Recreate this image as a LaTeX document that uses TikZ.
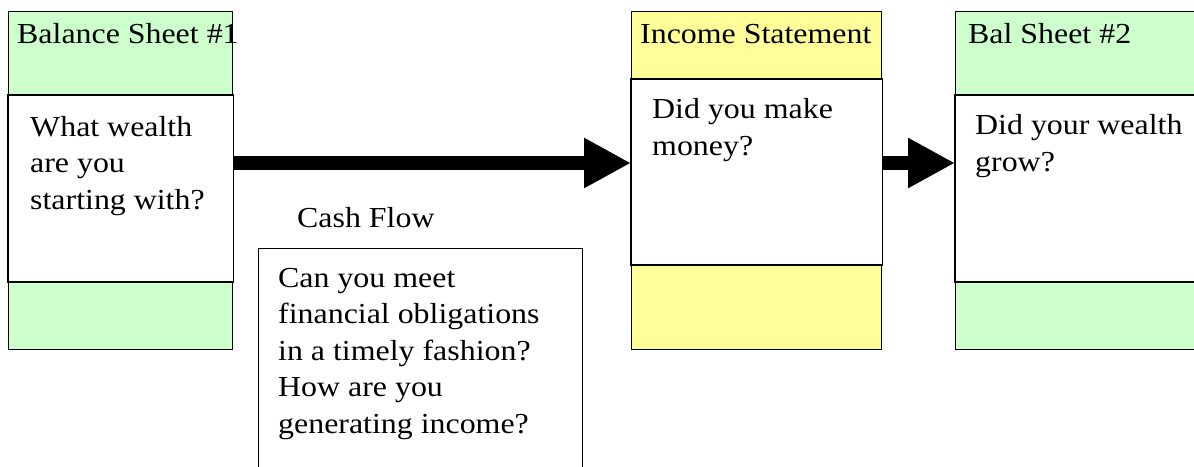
\documentclass[tikz,border=0pt]{standalone}
\usepackage{fontspec}
\setmainfont[FakeStretch=1.1]{Liberation Serif}
\usepackage{tikz}
\usetikzlibrary{arrows.meta, calc}
\definecolor{sheetgreen}{HTML}{CCFFCC}
\definecolor{incyellow}{HTML}{FFFF99}

\begin{document}
\begin{tikzpicture}[x=1pt, y=-1pt, line join=miter,
	panel/.style={draw=black, line width=1.3pt, rectangle, inner sep=0pt, anchor=north west},
	txt/.style={anchor=base west, inner sep=0pt, align=left, font=\fontsize{29}{36.5}\selectfont},
	bigarrow/.style={line width=14pt, -{Triangle[length=47pt, width=47pt]}}]

	\clip (0,0) rectangle (1194,466);

	% balance sheet 1
	\node[panel, fill=sheetgreen, minimum width=224pt, minimum height=338pt] (bs1) at (8,11) {};
	\filldraw[fill=white, line width=1.3pt] ($ (bs1.north west)+(0,84) $) rectangle ($ (bs1.north east)+(0,271) $);
	\node[txt] (bs1head) at (17,43) {Balance Sheet \#1};
	\node[txt] (bs1text) at (30,209) {What wealth\\are you\\starting with?};

	% income statement
	\node[panel, fill=incyellow, minimum width=250pt, minimum height=338pt] (inc) at (631,11) {};
	\filldraw[fill=white, line width=1.3pt] ($ (inc.north west)+(0,68) $) rectangle ($ (inc.north east)+(0,254) $);
	\node[txt] (inchead) at (640,43) {Income Statement};
	\node[txt] (inctext) at (652,155) {Did you make\\money?};

	% balance sheet 2
	\node[panel, fill=sheetgreen, minimum width=260pt, minimum height=338pt] (bs2) at (955,11) {};
	\filldraw[fill=white, line width=1.3pt] ($ (bs2.north west)+(0,84) $) rectangle ($ (bs2.north east)+(0,271) $);
	\node[txt] (bs2head) at (968,43) {Bal Sheet \#2};
	\node[txt] (bs2text) at (975,171) {Did your wealth\\grow?};

	% cash flow
	\node[txt] (cflabel) at (297,227) {Cash Flow};
	\node[panel, minimum width=324pt, minimum height=240pt] (cf) at (258,248) {};
	\node[txt] (cftext) at (278,433) {Can you meet\\financial obligations\\in a timely fashion?\\How are you\\generating income?};

	\draw[bigarrow] ([yshift=-152pt]bs1.north east) -- ([yshift=-152pt]inc.north west);
	\draw[bigarrow] ([yshift=-152pt]inc.north east) -- ([yshift=-152pt]bs2.north west);

\end{tikzpicture}
\end{document}
